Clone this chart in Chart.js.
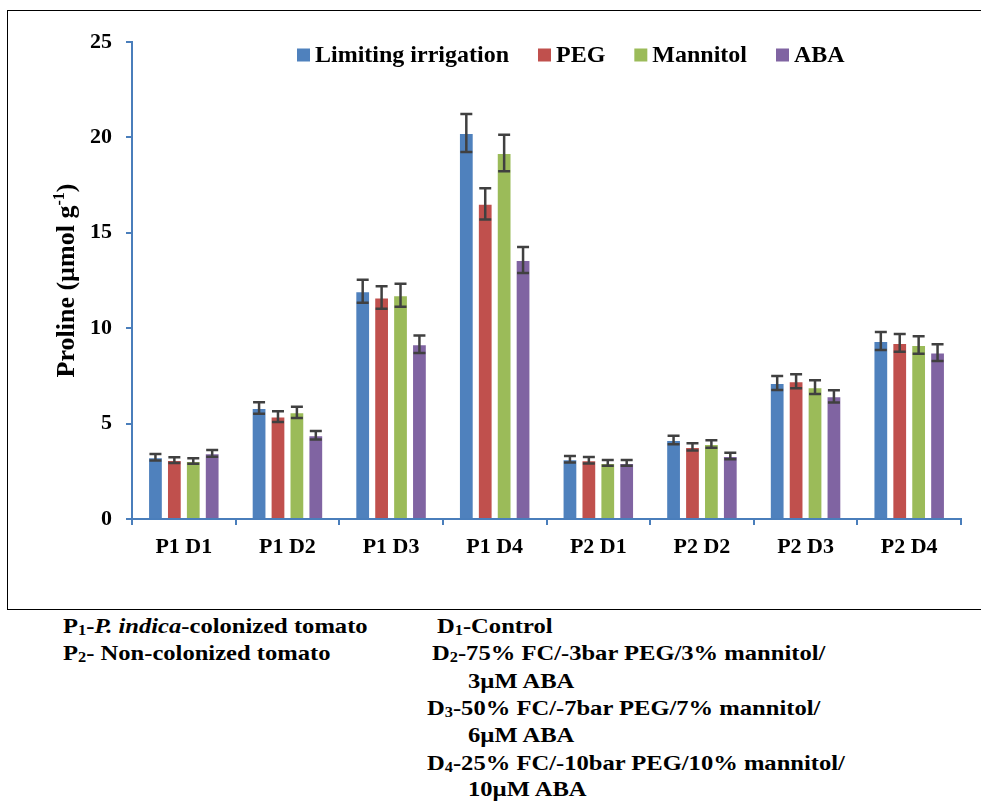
<!DOCTYPE html>
<html>
<head>
<meta charset="utf-8">
<script src="https://cdn.jsdelivr.net/npm/chart.js@4.4.0/dist/chart.umd.min.js"></script>
<style>
  body { margin: 0; background: #fff; font-family: "Liberation Serif", "Times New Roman", serif; }
  #wrap { position: relative; width: 981px; height: 802px; overflow: hidden; }
  #box { position: absolute; left: 7px; top: 10px; width: 1000px; height: 600px; border: 1.5px solid #000; box-sizing: border-box; }
  #cv { position: absolute; left: 0; top: 0; }
  .note { position: absolute; font-weight: bold; font-size: 21px; line-height: 27px; white-space: nowrap; color: #000;
          transform: scaleX(1.17); transform-origin: 0 0; }
  .note sub { font-size: 14px; vertical-align: baseline; position: relative; top: 2px; }
</style>
</head>
<body>
<div id="wrap">
  <div id="box"></div>
  <canvas id="cv" width="981" height="612"></canvas>
  <div class="note" style="left:63px; top:613px;">P<sub>1</sub>-<i>P. indica</i>-colonized tomato</div>
  <div class="note" style="left:63px; top:640px;">P<sub>2</sub>- Non-colonized tomato</div>
  <div class="note" style="left:437px; top:613px;">D<sub>1</sub>-Control</div>
  <div class="note" style="left:432px; top:640px;">D<sub>2</sub>-75% FC/-3bar PEG/3% mannitol/</div>
  <div class="note" style="left:468px; top:668px;">3µM ABA</div>
  <div class="note" style="left:427px; top:695px;">D<sub>3</sub>-50% FC/-7bar PEG/7% mannitol/</div>
  <div class="note" style="left:468px; top:722px;">6µM ABA</div>
  <div class="note" style="left:427px; top:750px;">D<sub>4</sub>-25% FC/-10bar PEG/10% mannitol/</div>
  <div class="note" style="left:468px; top:776px;">10µM ABA</div>
</div>
<script>
var categories = ["P1 D1", "P1 D2", "P1 D3", "P1 D4", "P2 D1", "P2 D2", "P2 D3", "P2 D4"];
var seriesNames = ["Limiting irrigation", "PEG", "Mannitol", "ABA"];
var limiting = [3.24, 5.82, 11.94, 20.23, 3.13, 4.14, 7.13, 9.33];
var peg = [3.09, 5.37, 11.61, 16.52, 3.08, 3.78, 7.22, 9.23];
var mannitol = [3.04, 5.59, 11.73, 19.18, 2.94, 3.93, 6.91, 9.12];
var aba = [3.44, 4.39, 9.16, 13.57, 2.94, 3.30, 6.43, 8.72];
var limitingErr = [0.17, 0.30, 0.60, 1.00, 0.17, 0.22, 0.37, 0.47];
var pegErr = [0.15, 0.28, 0.59, 0.82, 0.17, 0.19, 0.37, 0.47];
var mannitolErr = [0.15, 0.29, 0.60, 0.96, 0.15, 0.20, 0.36, 0.46];
var abaErr = [0.18, 0.22, 0.46, 0.68, 0.15, 0.17, 0.32, 0.44];
var yTicks = [0, 5, 10, 15, 20, 25];

var colors = ["#4F81BD", "#C0504D", "#9BBB59", "#8064A2"];
var axisBlue = "#4A7EBB";
var serif = '"Liberation Serif", "Times New Roman", serif';

var values = [limiting, peg, mannitol, aba];
var errors = [limitingErr, pegErr, mannitolErr, abaErr];

// error bars, drawn through the y scale
var errorBars = {
  id: "errorBars",
  afterDatasetsDraw: function(chart) {
    var ctx = chart.ctx;
    var y = chart.scales.y;
    ctx.save();
    ctx.strokeStyle = "#404040";
    ctx.lineWidth = 2.5;
    chart.data.datasets.forEach(function(ds, di) {
      var meta = chart.getDatasetMeta(di);
      meta.data.forEach(function(bar, i) {
        var v = ds.data[i], e = errors[di][i];
        var top = y.getPixelForValue(v + e);
        var bot = y.getPixelForValue(v - e);
        var x = bar.x;
        ctx.beginPath();
        ctx.moveTo(x, top); ctx.lineTo(x, bot);
        ctx.moveTo(x - 6, top); ctx.lineTo(x + 6, top);
        ctx.moveTo(x - 6, bot); ctx.lineTo(x + 6, bot);
        ctx.stroke();
      });
    });
    ctx.restore();
  }
};

// legend inside the plot + y title with superscript
var extras = {
  id: "extras",
  afterDraw: function(chart) {
    var ctx = chart.ctx;
    ctx.save();
    ctx.font = "bold 24px " + serif;
    ctx.textBaseline = "middle";
    var x = 297, ly = 55;
    chart.data.datasets.forEach(function(ds, i) {
      ctx.fillStyle = colors[i];
      ctx.fillRect(x, ly - 6.5, 13, 13);
      ctx.fillStyle = "#000";
      ctx.fillText(ds.label, x + 18, ly + 1);
      x += 18 + ctx.measureText(ds.label).width + 29;
    });

    // y axis title
    var a = chart.chartArea;
    ctx.translate(65, (a.top + a.bottom) / 2);
    ctx.rotate(-Math.PI / 2);
    var t1 = "Proline (µmol g", t3 = ")";
    ctx.font = "bold 26px " + serif;
    var w1 = ctx.measureText(t1).width;
    ctx.font = "bold 16px " + serif;
    var w2 = ctx.measureText("-1").width;
    ctx.font = "bold 26px " + serif;
    var w3 = ctx.measureText(t3).width;
    var sx = -(w1 + w2 + w3) / 2;
    ctx.textBaseline = "alphabetic";
    ctx.fillText(t1, sx, 9);
    ctx.font = "bold 16px " + serif;
    ctx.fillText("-1", sx + w1, -1);
    ctx.font = "bold 26px " + serif;
    ctx.fillText(t3, sx + w1 + w2, 9);
    ctx.restore();
  }
};

new Chart(document.getElementById("cv"), {
  type: "bar",
  data: {
    labels: categories,
    datasets: values.map(function(v, i) {
      return {
        label: seriesNames[i],
        data: v,
        backgroundColor: colors[i],
        borderColor: "rgba(255,255,255,0.5)",
        borderWidth: 1,
        barPercentage: 0.78,
        categoryPercentage: 0.73
      };
    })
  },
  options: {
    responsive: false,
    animation: false,
    layout: { padding: { top: 42, right: 20, left: 0, bottom: 0 } },
    plugins: { legend: { display: false }, tooltip: { enabled: false } },
    scales: {
      x: {
        afterFit: function(s) { s.height = 93; },
        grid: { display: true, drawOnChartArea: false, offset: true, tickLength: 6, color: axisBlue, lineWidth: 2 },
        border: { color: axisBlue, width: 2 },
        ticks: { color: "#000", padding: 9, font: { family: serif, size: 22, weight: "bold" } }
      },
      y: {
        min: 0, max: 25,
        afterFit: function(s) { s.width = 132; },
        afterBuildTicks: function(s) { s.ticks = yTicks.map(function(v) { return { value: v }; }); },
        grid: { display: true, drawOnChartArea: false, tickLength: 6, color: axisBlue, lineWidth: 2 },
        border: { color: axisBlue, width: 2 },
        ticks: { color: "#000", padding: 14, font: { family: serif, size: 22, weight: "bold" } }
      }
    }
  },
  plugins: [errorBars, extras]
});
</script>
</body>
</html>
